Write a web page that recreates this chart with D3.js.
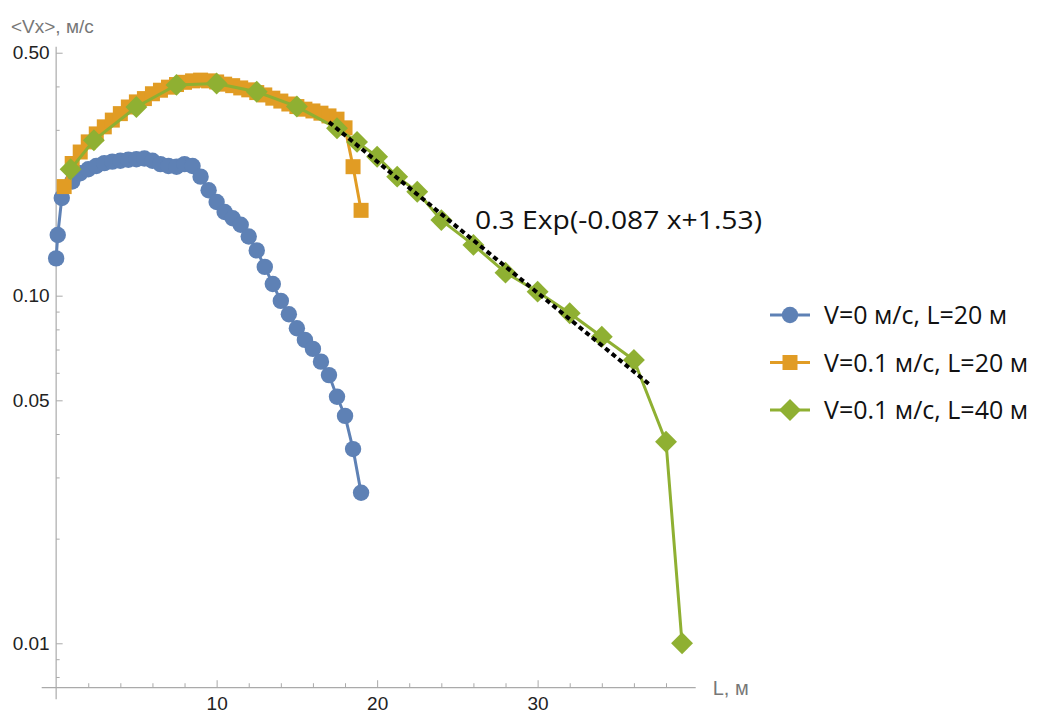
<!DOCTYPE html>
<html>
<head>
<meta charset="utf-8">
<script src="https://cdn.jsdelivr.net/npm/d3@7"></script>
<style>
  body { margin: 0; background: #fff; }
  svg { display: block; }
  .tick text { font-family: "Liberation Sans", Arial, sans-serif; font-size: 19px; fill: #222; }
  .tick line { stroke: #aaa; }
</style>
</head>
<body>
<div id="chart"></div>
<script>
// series: L (m) and <Vx> (m/s)
var blueX = [0, 0.1, 0.35, 1, 1.5, 2, 2.5, 3, 3.5, 4, 4.5, 5, 5.5, 6, 6.5, 7, 7.5, 8, 8.5, 9, 9.5,
  10, 10.5, 11, 11.5, 12, 12.5, 13, 13.5, 14, 14.5, 15, 15.5, 16, 16.5, 17, 17.5, 18, 18.5, 19];
var blueY = [0.128, 0.1495, 0.191, 0.213, 0.225, 0.231, 0.236, 0.2407, 0.243, 0.2445, 0.246, 0.247, 0.248, 0.2445, 0.239, 0.236, 0.235, 0.239, 0.236, 0.220, 0.201,
  0.186, 0.174, 0.167, 0.160, 0.148, 0.135, 0.121, 0.108, 0.0966, 0.0884, 0.0806, 0.0746, 0.0703, 0.0646, 0.0591, 0.0512, 0.0451, 0.0362, 0.0271];

var orangeX = [0.5, 1, 1.5, 2, 2.5, 3, 3.5, 4, 4.5, 5, 5.5, 6, 6.5, 7, 7.5, 8, 8.5, 9, 9.5,
  10, 10.5, 11, 11.5, 12, 12.5, 13, 13.5, 14, 14.5, 15, 15.5, 16, 16.5, 17, 17.5, 18, 18.5, 19];
var orangeY = [0.206, 0.240, 0.259, 0.277, 0.292, 0.306, 0.320, 0.334, 0.349, 0.361, 0.369, 0.381, 0.390, 0.398, 0.405, 0.411, 0.415, 0.417, 0.415,
  0.412, 0.406, 0.402, 0.396, 0.391, 0.384, 0.378, 0.370, 0.363, 0.356, 0.350, 0.344, 0.340, 0.335, 0.329, 0.322, 0.304, 0.235, 0.176];

var greenX = [0.9, 2.35, 5, 7.5, 10, 12.5, 15, 17.5, 18.75, 20, 21.25, 22.5, 24, 26, 28, 30, 32, 34, 36, 38, 39];
var greenY = [0.231, 0.280, 0.349, 0.404, 0.408, 0.386, 0.350, 0.303, 0.277, 0.251, 0.220, 0.199, 0.165, 0.140, 0.1165, 0.1027, 0.0890, 0.0762, 0.0653, 0.038, 0.010];

var seriesNames = ["V=0 м/с, L=20 м", "V=0.1 м/с, L=20 м", "V=0.1 м/с, L=40 м"];
var seriesColors = ["#5E81B5", "#E19C24", "#8FB032"];

// fitted curve 0.3 Exp(-0.087 x + 1.53), drawn over L = 17..37
var fitA = 0.3, fitK = -0.087, fitB = 1.53;
var fitRange = [17, 37];
var fitLabel = "0.3 Exp(-0.087 x+1.53)";

var xMajor = [10, 20, 30];
var xMinor = [2, 4, 6, 8, 12, 14, 16, 18, 22, 24, 26, 28, 32, 34, 36, 38];
var yMajor = [0.01, 0.05, 0.1, 0.5];
var yMajorLabels = ["0.01", "0.05", "0.10", "0.50"];
var yMinor = [0.008, 0.009, 0.02, 0.03, 0.04, 0.06, 0.07, 0.08, 0.09, 0.2, 0.3, 0.4];

var xPlot = [-0.9, 39.85];   // plot range, data units
var yPlot = [0.0069, 0.52];
var yCross = 0.00745;         // where the L axis sits

var W = 1042, H = 713;
var svg = d3.select("#chart").append("svg")
    .attr("width", W)
    .attr("height", H);

var x = d3.scaleLinear().domain(xPlot).range([41.7, 695.7]);
var y = d3.scaleLog().domain(yPlot).range([699.3, 46.8]);

var axisColor = "#aaa";

// axis lines
svg.append("line")
    .attr("x1", x(xPlot[0])).attr("x2", x(xPlot[1]))
    .attr("y1", y(yCross)).attr("y2", y(yCross))
    .attr("stroke", axisColor).attr("stroke-width", 1.2);
svg.append("line")
    .attr("x1", x(0)).attr("x2", x(0))
    .attr("y1", y(yPlot[0])).attr("y2", y(yPlot[1]))
    .attr("stroke", axisColor).attr("stroke-width", 1.2);

// x ticks (pointing up into the plot)
var gx = svg.append("g").attr("transform", "translate(0," + y(yCross) + ")");
gx.append("g")
    .call(d3.axisBottom(x).tickValues(xMajor).tickSizeInner(-7.5).tickSizeOuter(0).tickPadding(9))
    .call(function(g) { g.select(".domain").remove(); });
gx.append("g")
    .call(d3.axisBottom(x).tickValues(xMinor).tickSizeInner(-4.5).tickSizeOuter(0).tickFormat(""))
    .call(function(g) { g.select(".domain").remove(); });
gx.selectAll(".tick text").attr("dy", "0.71em");

// y ticks (pointing right into the plot)
var gy = svg.append("g").attr("transform", "translate(" + x(0) + ",0)");
gy.append("g")
    .call(d3.axisLeft(y).tickValues(yMajor).tickSizeInner(-6.5).tickSizeOuter(0).tickPadding(6.5)
      .tickFormat(function(d, i) { return yMajorLabels[i]; }))
    .call(function(g) { g.select(".domain").remove(); });
gy.append("g")
    .call(d3.axisLeft(y).tickValues(yMinor).tickSizeInner(-3.5).tickSizeOuter(0).tickFormat(""))
    .call(function(g) { g.select(".domain").remove(); });
svg.selectAll(".tick line").attr("stroke", axisColor).attr("stroke-width", 1);

// axis titles
svg.append("text")
    .attr("x", 11).attr("y", 33)
    .attr("font-family", "Liberation Sans, Arial, sans-serif")
    .attr("font-size", 19)
    .attr("fill", "#777")
    .text("<Vx>, м/с");
svg.append("text")
    .attr("x", x(xPlot[1]) + 17).attr("y", y(yCross) + 7)
    .attr("font-family", "Liberation Sans, Arial, sans-serif")
    .attr("font-size", 20)
    .attr("fill", "#777")
    .text("L, м");

var line = d3.line()
    .x(function(d) { return x(d[0]); })
    .y(function(d) { return y(d[1]); });

var series = [
  { pts: d3.zip(blueX, blueY), color: seriesColors[0], shape: "circle" },
  { pts: d3.zip(orangeX, orangeY), color: seriesColors[1], shape: "square" },
  { pts: d3.zip(greenX, greenY), color: seriesColors[2], shape: "diamond" }
];

var symbolFor = {
  circle: d3.symbol(d3.symbolCircle, Math.PI * 8.2 * 8.2),
  square: d3.symbol(d3.symbolSquare, 15 * 15),
  diamond: d3.symbol(d3.symbolSquare, 15.5 * 15.5)
};

function drawMarker(g, shape, color) {
  var p = g.append("path")
      .attr("d", symbolFor[shape]())
      .attr("fill", color);
  if (shape === "diamond") p.attr("transform", "rotate(45)");
  return p;
}

series.forEach(function(s) {
  var g = svg.append("g");
  g.append("path")
      .attr("d", line(s.pts))
      .attr("fill", "none")
      .attr("stroke", s.color)
      .attr("stroke-width", 3);
  g.selectAll("g.pt")
      .data(s.pts)
      .enter().append("g")
      .attr("class", "pt")
      .attr("transform", function(d) { return "translate(" + x(d[0]) + "," + y(d[1]) + ")"; })
      .each(function() { drawMarker(d3.select(this), s.shape, s.color); });
});

// fit line
var fitPts = fitRange.map(function(t) { return [t, fitA * Math.exp(fitK * t + fitB)]; });
svg.append("path")
    .attr("d", line(fitPts))
    .attr("fill", "none")
    .attr("stroke", "#000")
    .attr("stroke-width", 4)
    .attr("stroke-dasharray", "5,3.5");

svg.append("text")
    .attr("x", 475).attr("y", 229)
    .attr("font-family", "Open Sans, sans-serif")
    .attr("font-size", 25)
    .attr("textLength", 287)
    .attr("lengthAdjust", "spacingAndGlyphs")
    .attr("fill", "#111")
    .text(fitLabel);

// legend
var legend = svg.append("g").attr("transform", "translate(770,315)");
series.forEach(function(s, i) {
  var row = legend.append("g").attr("transform", "translate(0," + (i * 47.5) + ")");
  row.append("line")
      .attr("x1", 0).attr("x2", 40)
      .attr("stroke", s.color).attr("stroke-width", 3);
  var m = row.append("g").attr("transform", "translate(20,0)");
  drawMarker(m, s.shape, s.color);
  row.append("text")
      .attr("x", 54).attr("dy", "0.36em")
      .attr("font-family", "Open Sans, sans-serif")
      .attr("font-size", 25)
      .attr("fill", "#111")
      .text(seriesNames[i]);
});
</script>
</body>
</html>
